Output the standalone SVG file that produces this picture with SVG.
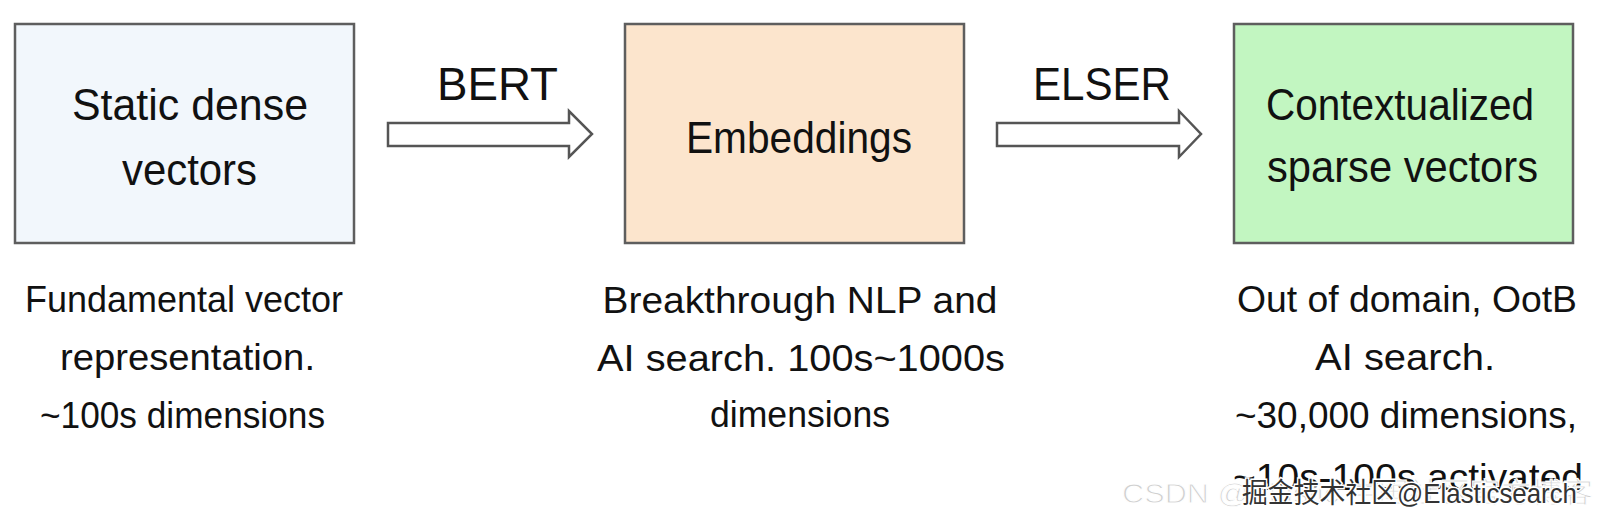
<svg xmlns="http://www.w3.org/2000/svg" width="1600" height="521" viewBox="0 0 1600 521">
<style>
.box{stroke:#5e5e5e;stroke-width:2.5}
.t{font-family:"Liberation Sans","DejaVu Sans",sans-serif;fill:#111;text-anchor:middle}
.big{font-size:44px}
.lab{font-size:46px}
.sm{font-size:36px}
.arr{fill:#fff;stroke:#555;stroke-width:2.5;stroke-linejoin:miter}
.wm{font-family:"Liberation Sans","Noto Sans CJK SC",sans-serif;font-size:28px}
</style>
<rect width="1600" height="521" fill="#fff"/>
<g id="connectors">
<polygon class="arr" points="388,123 569,123 569,111 592,134 569,157 569,146 388,146"/>
<text class="t lab" x="497.5" y="100" textLength="121" lengthAdjust="spacingAndGlyphs">BERT</text>
<polygon class="arr" points="997,123 1179,123 1179,111 1201,134 1179,157 1179,146 997,146"/>
<text class="t lab" x="1102" y="100" textLength="138" lengthAdjust="spacingAndGlyphs">ELSER</text>
</g>
<g id="node-static">
<rect class="box" x="15" y="24" width="339" height="219" fill="#f2f7fc"/>
<text class="t big" x="190" y="120" textLength="236" lengthAdjust="spacingAndGlyphs">Static dense</text>
<text class="t big" x="189.5" y="185" textLength="135" lengthAdjust="spacingAndGlyphs">vectors</text>
</g>
<g id="node-embeddings">
<rect class="box" x="625" y="24" width="339" height="219" fill="#fce5cd"/>
<text class="t big" x="799" y="153" textLength="226" lengthAdjust="spacingAndGlyphs">Embeddings</text>
</g>
<g id="node-sparse">
<rect class="box" x="1234" y="24" width="339" height="219" fill="#c2f6c1"/>
<text class="t big" x="1400" y="120" textLength="268" lengthAdjust="spacingAndGlyphs">Contextualized</text>
<text class="t big" x="1402.5" y="182" textLength="271" lengthAdjust="spacingAndGlyphs">sparse vectors</text>
</g>
<g id="desc-static">
<text class="t sm" x="184" y="312" textLength="318" lengthAdjust="spacingAndGlyphs">Fundamental vector</text>
<text class="t sm" x="187.5" y="370" textLength="255" lengthAdjust="spacingAndGlyphs">representation.</text>
<text class="t sm" x="182.5" y="428" textLength="285" lengthAdjust="spacingAndGlyphs">~100s dimensions</text>
</g>
<g id="desc-embeddings">
<text class="t sm" x="800" y="313" textLength="395" lengthAdjust="spacingAndGlyphs">Breakthrough NLP and</text>
<text class="t sm" x="801" y="371" textLength="408" lengthAdjust="spacingAndGlyphs">AI search. 100s~1000s</text>
<text class="t sm" x="800" y="427" textLength="180" lengthAdjust="spacingAndGlyphs">dimensions</text>
</g>
<g id="desc-sparse">
<text class="t sm" x="1407" y="312" textLength="340" lengthAdjust="spacingAndGlyphs">Out of domain, OotB</text>
<text class="t sm" x="1405" y="370" textLength="180" lengthAdjust="spacingAndGlyphs">AI search.</text>
<text class="t sm" x="1406" y="428" textLength="342" lengthAdjust="spacingAndGlyphs">~30,000 dimensions,</text>
<text class="t sm" x="1408" y="490" textLength="350" lengthAdjust="spacingAndGlyphs">~10s-100s activated</text>
</g>
<g id="watermark">
<text class="wm" x="1122" y="503" fill="#d0d0d0" stroke="#fff" stroke-width="1" textLength="471" lengthAdjust="spacingAndGlyphs">CSDN @Elastic 中国社区官方博客</text>
<text class="wm" x="1242" y="503" fill="#333" stroke="#fff" stroke-width="3" paint-order="stroke" textLength="335" lengthAdjust="spacingAndGlyphs">掘金技术社区@Elasticsearch</text>
</g>
</svg>
